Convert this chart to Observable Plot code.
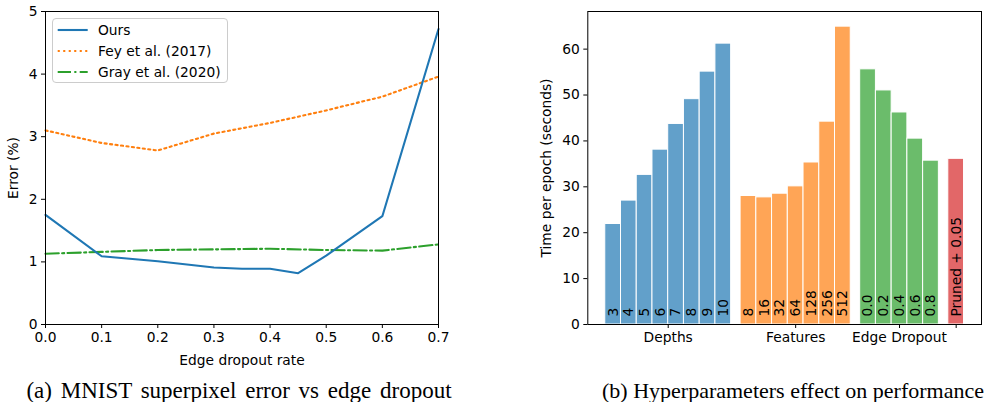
<!DOCTYPE html>
<html>
<head>
<meta charset="utf-8">
<script src="https://cdn.jsdelivr.net/npm/d3@7"></script>
<script src="https://cdn.jsdelivr.net/npm/@observablehq/plot@0.6"></script>
<style>
  html, body { margin: 0; padding: 0; background: #fff; }
  #root { position: relative; width: 990px; height: 402px; overflow: hidden; font-family: "DejaVu Sans", sans-serif; }
  .panel { position: absolute; top: 0; }
  .caption { position: absolute; top: 380px; font-family: "Liberation Serif", "Times New Roman", serif; font-size: 22px; line-height: 22px; white-space: nowrap; text-align: center; color: #000; }
  .legend { position: absolute; left: 52px; top: 18px; width: 176px; height: 65px; box-sizing: border-box; border: 1px solid #cccccc; border-radius: 4px; background: rgba(255,255,255,0.8); z-index: 2; }
  .legend .row { position: absolute; left: 0; height: 20px; width: 176px; }
  .legend svg { position: absolute; left: 4px; top: 0; }
  .legend span { position: absolute; left: 45px; top: 1px; font-size: 13.8px; line-height: 18px; font-family: "DejaVu Sans", sans-serif; color: #000; white-space: nowrap; }
</style>
</head>
<body>
<div id="root">
  <div id="left" class="panel" style="left:0px"></div>
  <div id="right" class="panel" style="left:530px"></div>
  <div id="legend" class="legend"></div>
  <div class="caption" style="left:0px; width:478px; font-size:23px; line-height:22px; word-spacing:3px;">(a) MNIST superpixel error vs edge dropout</div>
  <div class="caption" style="left:600px; width:386px;">(b) Hyperparameters effect on performance</div>
</div>
<script>
// ---------- Panel (a) data ----------
const oursX = [0, 0.1, 0.2, 0.3, 0.35, 0.4, 0.45, 0.5, 0.6, 0.7];
const oursError = [1.75, 1.09, 1.01, 0.91, 0.89, 0.89, 0.82, 1.10, 1.73, 4.72];
const baselineX = [0, 0.1, 0.2, 0.3, 0.4, 0.5, 0.6, 0.7];
const feyError = [3.10, 2.90, 2.78, 3.05, 3.22, 3.42, 3.64, 3.96];
const grayError = [1.13, 1.16, 1.19, 1.20, 1.21, 1.19, 1.18, 1.28];
const seriesNames = ["Ours", "Fey et al. (2017)", "Gray et al. (2020)"];
const xTicksLeft = [0, 0.1, 0.2, 0.3, 0.4, 0.5, 0.6, 0.7];
const yTicksLeft = [0, 1, 2, 3, 4, 5];

// ---------- Panel (b) data ----------
const groupKeys = ["Depths", "Features", "Edge Dropout", "Pruned"];
const groupTickLabels = ["Depths", "Features", "Edge Dropout", ""];
const depthLabels = ["3", "4", "5", "6", "7", "8", "9", "10"];
const depthTimes = [21.9, 27.0, 32.6, 38.1, 43.7, 49.1, 55.1, 61.2];
const featureLabels = ["8", "16", "32", "64", "128", "256", "512"];
const featureTimes = [28.0, 27.7, 28.5, 30.1, 35.3, 44.2, 64.9];
const dropoutLabels = ["0.0", "0.2", "0.4", "0.6", "0.8"];
const dropoutTimes = [55.6, 51.0, 46.2, 40.5, 35.7];
const prunedLabels = ["Pruned + 0.05"];
const prunedTimes = [36.1];
const yTicksRight = [0, 10, 20, 30, 40, 50, 60];

const BLUE = "#1f77b4", ORANGE = "#ff7f0e", GREEN = "#2ca02c", RED = "#d62728";
const FONT = "DejaVu Sans";
const FS = 13.8;
const DOTTED = "2.1,3.4";
const DASHDOT = "13.3,3.3,2.1,3.3";

// ---------- Panel (a) ----------
const ours = oursX.map((x, i) => ({x, y: oursError[i]}));
const fey = baselineX.map((x, i) => ({x, y: feyError[i]}));
const gray = baselineX.map((x, i) => ({x, y: grayError[i]}));

const left = Plot.plot({
  width: 450, height: 370,
  marginLeft: 45, marginRight: 12, marginTop: 11, marginBottom: 46,
  style: {fontFamily: FONT, fontSize: FS + "px", color: "#000", background: "transparent", overflow: "visible"},
  x: {domain: [0, 0.7]},
  y: {domain: [0, 5]},
  marks: [
    Plot.line(gray, {x: "x", y: "y", stroke: GREEN, strokeWidth: 2.1, strokeDasharray: DASHDOT}),
    Plot.line(fey, {x: "x", y: "y", stroke: ORANGE, strokeWidth: 2.1, strokeDasharray: DOTTED}),
    Plot.line(ours, {x: "x", y: "y", stroke: BLUE, strokeWidth: 2.1}),
    Plot.frame({stroke: "#000", strokeWidth: 1}),
    Plot.axisY(yTicksLeft, {tickSize: 4, tickPadding: 4, tickFormat: d3.format("d"), label: null, fontSize: FS}),
    Plot.axisX(xTicksLeft, {tickSize: 4, tickPadding: 4, tickFormat: d3.format(".1f"), label: null, fontSize: FS}),
    Plot.text(["Error (%)"], {frameAnchor: "left", rotate: -90, dx: -32, textAnchor: "middle", lineAnchor: "middle", fontSize: FS}),
    Plot.text(["Edge dropout rate"], {frameAnchor: "bottom", dy: 36, textAnchor: "middle", lineAnchor: "middle", fontSize: FS})
  ]
});
document.getElementById("left").appendChild(left);

// Legend (HTML)
const legendStyles = [
  {color: BLUE, dash: null},
  {color: ORANGE, dash: DOTTED},
  {color: GREEN, dash: DASHDOT}
];
const legendEl = document.getElementById("legend");
seriesNames.forEach((name, i) => {
  const row = document.createElement("div");
  row.className = "row";
  row.style.top = (1.3 + i * 20.7) + "px";
  const st = legendStyles[i];
  row.innerHTML =
    `<svg width="32" height="20"><line x1="0.7" x2="30.7" y1="10" y2="10" stroke="${st.color}" stroke-width="2.1"${st.dash ? ` stroke-dasharray="${st.dash}"` : ""}/></svg>` +
    `<span>${name}</span>`;
  legendEl.appendChild(row);
});

// ---------- Panel (b) ----------
const GAP = 0.6;
const groups = [
  {key: groupKeys[0], labels: depthLabels, times: depthTimes, color: BLUE},
  {key: groupKeys[1], labels: featureLabels, times: featureTimes, color: ORANGE},
  {key: groupKeys[2], labels: dropoutLabels, times: dropoutTimes, color: GREEN},
  {key: groupKeys[3], labels: prunedLabels, times: prunedTimes, color: RED}
];
const bars = [];
let idx = 0;
groups.forEach((g, gi) => {
  g.labels.forEach((lab, j) => {
    bars.push({group: g.key, label: lab, time: g.times[j], pos: idx + gi * GAP, color: g.color});
    idx++;
  });
});
const groupCenters = groupKeys.map(k => d3.mean(bars.filter(b => b.group === k), b => b.pos));
const tickLabelByPos = new Map(groupCenters.map((c, i) => [c, groupTickLabels[i]]));
const posExtent = d3.extent(bars, b => b.pos);

const right = Plot.plot({
  width: 460, height: 370,
  marginLeft: 57.3, marginRight: 9, marginTop: 11, marginBottom: 46,
  style: {fontFamily: FONT, fontSize: FS + "px", color: "#000", background: "transparent", overflow: "visible"},
  x: {domain: [posExtent[0] - 1.61, posExtent[1] + 1.61]},
  y: {domain: [0, 68.2]},
  marks: [
    Plot.rect(bars, {x1: d => d.pos - 0.5, x2: d => d.pos + 0.5, y1: 0, y2: "time", fill: d => d.color, fillOpacity: 0.7, stroke: "#fff", strokeWidth: 1}),
    Plot.text(bars, {x: "pos", y: 0, text: "label", rotate: -90, textAnchor: "start", lineAnchor: "middle", dy: -8, fontSize: FS, fill: "#000"}),
    Plot.frame({stroke: "#000", strokeWidth: 1}),
    Plot.axisY(yTicksRight, {tickSize: 4, tickPadding: 4, tickFormat: d3.format("d"), label: null, fontSize: FS}),
    Plot.axisX(groupCenters, {tickSize: 4, tickPadding: 4, tickFormat: d => tickLabelByPos.get(d), label: null, fontSize: FS}),
    Plot.text(["Time per epoch (seconds)"], {frameAnchor: "left", rotate: -90, dx: -41, textAnchor: "middle", lineAnchor: "middle", fontSize: FS})
  ]
});
document.getElementById("right").appendChild(right);
</script>
</body>
</html>
